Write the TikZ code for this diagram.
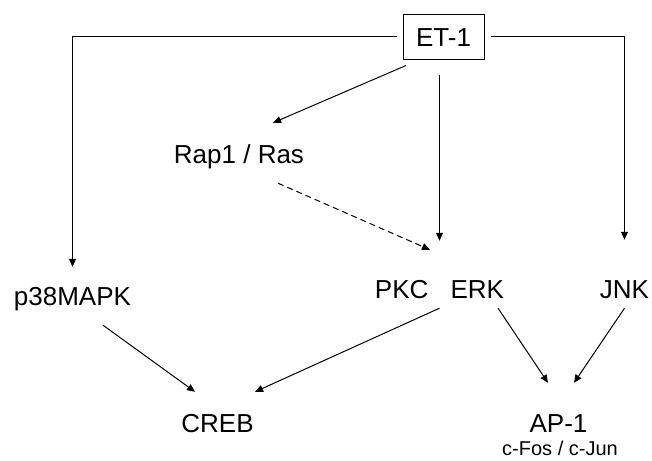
\documentclass[tikz,border=0pt]{standalone}
\usepackage{fontspec}
\setmainfont{Liberation Sans}
\usetikzlibrary{arrows.meta,shapes}
\tikzstyle{protein}=[inner sep=0pt,anchor=base,text height=19pt,text depth=5pt,font=\fontsize{26}{30}\selectfont]
\tikzstyle{ligand}=[protein,draw,line width=1pt,anchor=center,text depth=0pt,minimum width=81pt,minimum height=44pt]
\tikzstyle{subunit}=[inner sep=0pt,anchor=base,font=\fontsize{20}{24}\selectfont]
\tikzstyle{edge}=[draw,line width=1pt,-{Triangle[length=8pt,width=7pt]}]
\tikzstyle{maybe edge}=[edge,dash pattern=on 6pt off 4pt]
\begin{document}
\begin{tikzpicture}[x=1pt,y=-1pt]
    \useasboundingbox (0,0) rectangle (652,460);
    % Draw the ET-1 signalling scheme
    % First we draw the proteins
    \node[ligand] (et1) at (443.5,37) {ET-1};
    \node[protein] (rap) at (239,163) {Rap1 / Ras};
    \node[protein] (pkcerk) at (439.5,298) {PKC\hspace{0.85em}ERK};
    \foreach \pos/\name/\txt in {{(72.5,305)/p38/p38MAPK},{(624.5,298)/jnk/JNK},{(217.5,432)/creb/CREB},{(558.5,432)/ap1/AP-1}}
        \node[protein] (\name) at \pos {\txt};
    \node[subunit] (fos) at (560,455) {c-Fos / c-Jun};

    % Connect the proteins with arrows
    \path[edge,shorten <=6pt,shorten >=19pt] (et1.west) -| (p38.north);
    \path[edge,shorten <=6pt,shorten >=39pt] (et1.east) -| (jnk.north);
    \path[edge,shorten <=15pt,shorten >=38pt] (et1.south -| pkcerk.north) -- (pkcerk.north);
    \path[edge] ([xshift=-37.5pt,yshift=-6pt]et1.south) -- ([xshift=34pt,yshift=21pt]rap.north);
    \path[maybe edge] ([xshift=39pt,yshift=-15pt]rap.south) -- ([xshift=-9.5pt,yshift=29pt]pkcerk.north);
    \path[edge] ([xshift=30.5pt,yshift=-15pt]p38.south) -- ([xshift=-22.5pt,yshift=21pt]creb.north);
    \path[edge] ([yshift=-5pt]pkcerk.south) -- ([xshift=37.5pt,yshift=21pt]creb.north);
    \path[edge] ([xshift=58.5pt,yshift=-5pt]pkcerk.south) -- ([xshift=-10.5pt,yshift=30pt]ap1.north);
    \path[edge] ([yshift=-5pt]jnk.south) -- ([xshift=15.5pt,yshift=30pt]ap1.north);
\end{tikzpicture}
\end{document}
